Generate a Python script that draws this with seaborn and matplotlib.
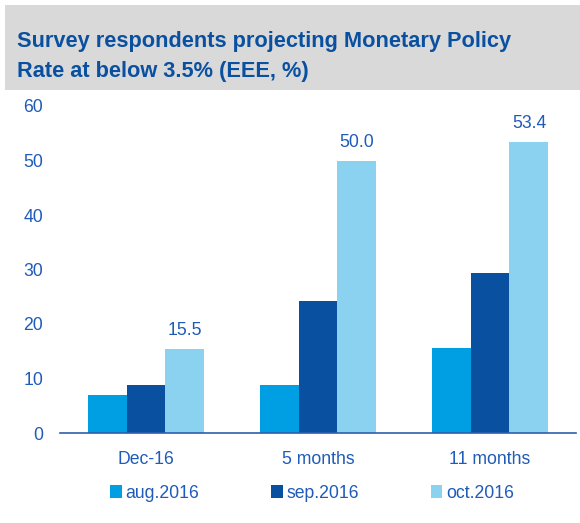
import matplotlib
matplotlib.use("Agg")
import matplotlib.pyplot as plt
import seaborn as sns
import pandas as pd
from matplotlib.patches import Rectangle, Patch

categories = ["Dec-16", "5 months", "11 months"]
series = ["aug.2016", "sep.2016", "oct.2016"]
aug_vals = [7.0, 8.8, 15.6]
sep_vals = [8.8, 24.2, 29.3]
oct_vals = [15.5, 50.0, 53.4]
yticks = [0, 10, 20, 30, 40, 50, 60]

colors = ["#009FE3", "#0A50A1", "#8BD2F1"]
text_blue = "#1F5BB8"
title_blue = "#0A50A1"

rows = []
for s, vals in zip(series, [aug_vals, sep_vals, oct_vals]):
    for c, v in zip(categories, vals):
        rows.append({"cat": c, "series": s, "value": v})
df = pd.DataFrame(rows)

sns.set_style("white")
plt.rcParams["font.family"] = ["Liberation Sans", "DejaVu Sans"]

fig = plt.figure(figsize=(5.8, 5.23), dpi=100)
# title box
fig.patches.append(Rectangle((5 / 580, 1 - 90 / 523), 575 / 580, 85 / 523,
                             transform=fig.transFigure, facecolor="#D9D9D9",
                             edgecolor="none", zorder=0))
fig.text(17 / 580, 1 - 41 / 523, "Survey respondents projecting Monetary Policy",
         fontsize=15.7, fontweight="bold", color=title_blue, va="center", ha="left")
fig.text(17 / 580, 1 - 71 / 523, "Rate at below 3.5% (EEE, %)",
         fontsize=15.7, fontweight="bold", color=title_blue, va="center", ha="left")

ax = fig.add_axes([60 / 580, 1 - 433 / 523, 516 / 580, 327 / 523])
sns.barplot(data=df, x="cat", y="value", hue="series", order=categories,
            hue_order=series, palette=colors, width=0.68, gap=0,
            saturation=1, ax=ax, legend=False, edgecolor="none")

# labels on oct bars
oct_container = ax.containers[2]
ax.bar_label(oct_container, labels=[f"{v:.1f}" for v in oct_vals],
             padding=7, fontsize=12.7, color=text_blue)

ax.set_ylim(0, 60)
ax.set_xlim(-0.5, 2.5)
ax.set_yticks(yticks)
ax.set_yticklabels([str(t) for t in yticks])
ax.set_xlabel("")
ax.set_ylabel("")
for s in ["top", "right", "left"]:
    ax.spines[s].set_visible(False)
ax.spines["bottom"].set_color("#2E5FAD")
ax.spines["bottom"].set_linewidth(1.2)
ax.tick_params(axis="y", length=0, labelsize=12.7, labelcolor=text_blue, pad=12)
for lbl in ax.get_yticklabels():
    lbl.set_va("center_baseline")
ax.tick_params(axis="x", which="major", length=0, labelsize=12.7,
               labelcolor=text_blue, pad=13)
ax.set_xticks([-0.5, 0.5, 1.5, 2.5], minor=True)
ax.tick_params(axis="x", which="minor", length=5, width=1.2, color="#2E5FAD",
               direction="out")

handles = [Patch(facecolor=c, edgecolor="none") for c in colors]
fig.legend(handles, series, loc="center", bbox_to_anchor=(312 / 580, 1 - 493 / 523),
           ncol=3, frameon=False, fontsize=12.7, labelcolor=text_blue,
           handlelength=0.65, handleheight=0.7, handletextpad=0.2,
           columnspacing=4.1)

fig.savefig("out.png", dpi=100)
